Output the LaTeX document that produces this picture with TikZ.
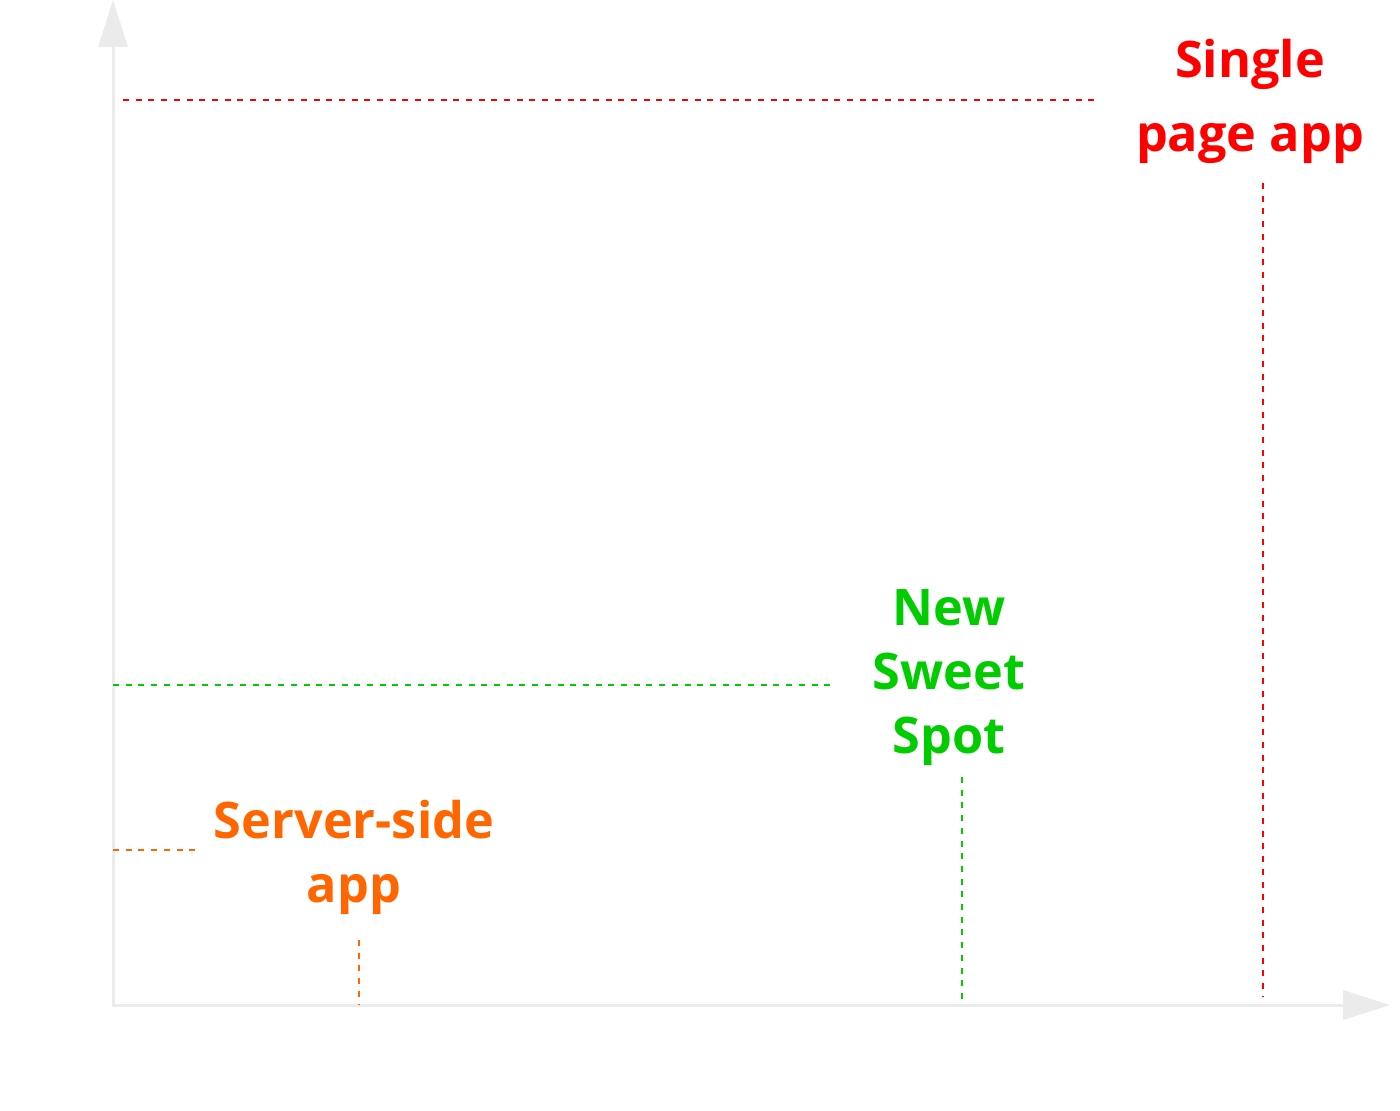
\documentclass[tikz,border=0pt]{standalone}
\usepackage{fontspec}
\IfFontExistsTF{Open Sans SemiBold}{\setmainfont{Open Sans}[BoldFont={Open Sans SemiBold}]}{\setmainfont{Open Sans}}
\definecolor{axisgray}{HTML}{EBEBEB}
\definecolor{spared}{HTML}{FF0000}
\definecolor{sweetgreen}{HTML}{00CC00}
\definecolor{ssorange}{HTML}{FF6600}
\tikzset{
  axisline/.style={draw=axisgray, line width=1.5pt},
  axishead/.style={fill=axisgray, draw=none},
  guide/.style={line width=1.1pt, dash pattern=on 3pt off 3.35pt},
  lbl/.style={font=\bfseries\fontsize{25.2}{32}\selectfont, align=center, inner sep=0pt, anchor=base}
}
\begin{document}
\begin{tikzpicture}[x=0.5pt,y=-0.5pt]
\useasboundingbox (0,0) rectangle (1400,1110);
% axes
\coordinate (origin) at (113,1005);
\coordinate (ytop) at (113,47);
\coordinate (xend) at (1343,1005);
\draw[axisline] (ytop) -- (origin) -- (xend);
\fill[axishead] (113,0) -- (128,47) -- (98,47) -- cycle;
\fill[axishead] (1390,1005) -- (1343,990) -- (1343,1020) -- cycle;
% labels (anchor = baseline of last line)
\node[lbl, text=spared, font=\bfseries\fontsize{25.2}{37}\selectfont] (spa) at (1250,151) {Single\\page app};
\node[lbl, text=sweetgreen] (nss) at (949,753) {New\\Sweet\\Spot};
\node[lbl, text=ssorange] (ssa) at (354,902) {Server-side\\app};
% guides
\coordinate (spaL) at (123,100);
\coordinate (spaR) at (1100,100);
\coordinate (spaT) at (1263,183);
\coordinate (spaB) at (1263,996);
\draw[guide, spared] (spaL) -- (spaR);
\draw[guide, spared] (spaT) -- (spaB);
\coordinate (nssL) at (113,685);
\coordinate (nssR) at (835,685);
\coordinate (nssT) at (962,777);
\coordinate (nssB) at (962,1005);
\draw[guide, sweetgreen] (nssL) -- (nssR);
\draw[guide, sweetgreen] (nssT) -- (nssB);
\coordinate (ssaL) at (113,850);
\coordinate (ssaR) at (195,850);
\coordinate (ssaT) at (359,940);
\coordinate (ssaB) at (359,1005);
\draw[guide, ssorange] (ssaL) -- (ssaR);
\draw[guide, ssorange] (ssaT) -- (ssaB);
\end{tikzpicture}
\end{document}
